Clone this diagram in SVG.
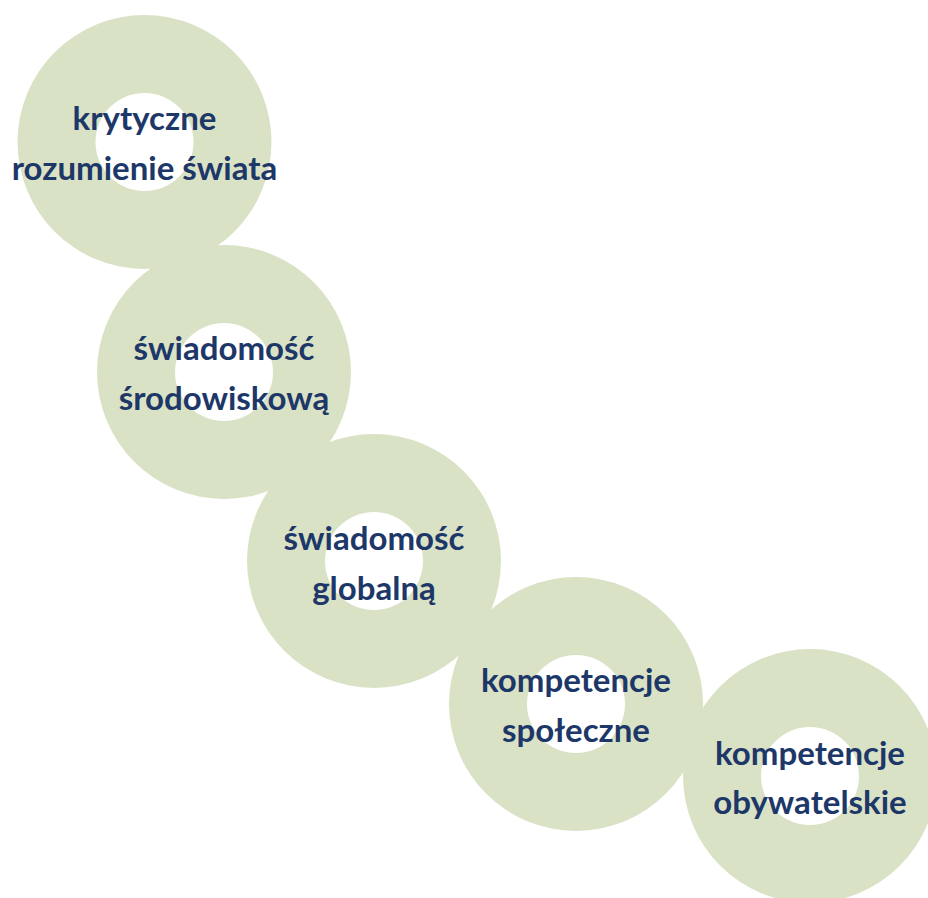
<svg xmlns="http://www.w3.org/2000/svg" width="928" height="898" viewBox="0 0 928 898">
<style>
.ring{fill:#dae2c5}
.hole{fill:#ffffff}
.lbl{font-family:Lato,"Liberation Sans",sans-serif;font-weight:700;font-size:33px;fill:#1d3868;text-anchor:middle}
</style>
<rect width="928" height="898" fill="#ffffff"/>
<g id="connectors"/>
<g id="node1">
<circle class="ring" cx="144.5" cy="142" r="127"/>
<circle class="hole" cx="144.5" cy="142" r="49"/>
</g>
<g id="node2">
<circle class="ring" cx="224" cy="372" r="127"/>
<circle class="hole" cx="224" cy="372" r="49"/>
</g>
<g id="node3">
<circle class="ring" cx="374" cy="561" r="127"/>
<circle class="hole" cx="374" cy="561" r="49"/>
</g>
<g id="node4">
<circle class="ring" cx="576" cy="704" r="127"/>
<circle class="hole" cx="576" cy="704" r="49"/>
</g>
<g id="node5">
<circle class="ring" cx="810" cy="776" r="127"/>
<circle class="hole" cx="810" cy="776" r="49"/>
</g>
<g id="labels">
<text class="lbl" x="144.5" y="130">krytyczne</text>
<text class="lbl" x="144.5" y="180">rozumienie świata</text>
<text class="lbl" x="224" y="360">świadomość</text>
<text class="lbl" x="224" y="410">środowiskową</text>
<text class="lbl" x="374" y="550">świadomość</text>
<text class="lbl" x="374" y="600">globalną</text>
<text class="lbl" x="576" y="692">kompetencje</text>
<text class="lbl" x="576" y="742">społeczne</text>
<text class="lbl" x="810" y="765">kompetencje</text>
<text class="lbl" x="810" y="814">obywatelskie</text>
</g>
</svg>
